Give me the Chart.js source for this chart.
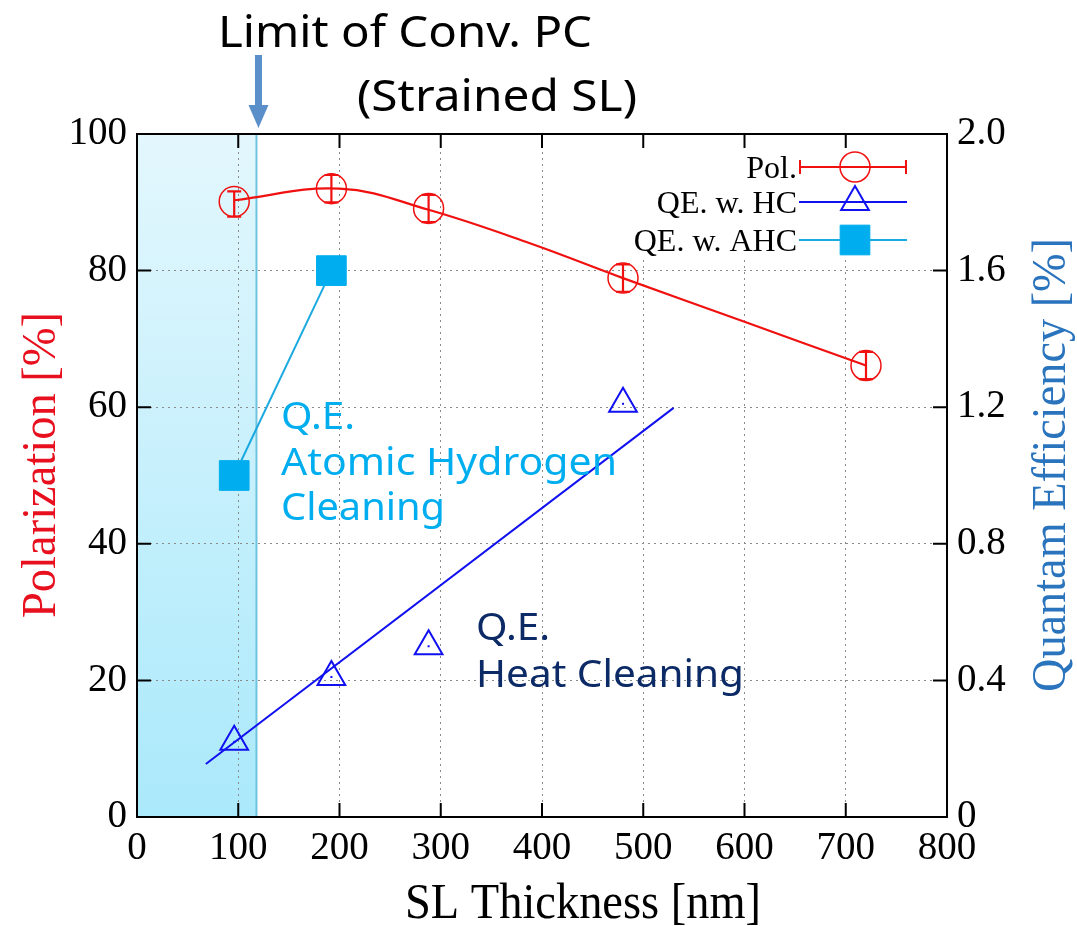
<!DOCTYPE html>
<html lang="en">
<head>
  <meta charset="UTF-8" />
  <title>Polarization and QE vs SL Thickness</title>
  <script src="https://cdn.jsdelivr.net/npm/chart.js"></script>
  <style>
    body { margin: 0; background: #fff; }
    #wrap { position: relative; width: 1077px; height: 926px; }
  </style>
</head>
<body>
  <div id="wrap"><canvas id="chart"></canvas></div>

  <script>
    // values
    const polThickness = [96, 192, 288, 480, 720];
    const polValues = [90.1, 92.0, 89.1, 78.9, 66.1];
    const polErrLow = [2.2, 2, 2, 2, 2];
    const polErrHigh = [1.5, 2, 2, 2, 2];

    // smooth fit curve through the polarization data
    const fitThickness = [96, 200, 288, 388, 480, 600, 720];
    const fitValues = [90.3, 92.0, 88.9, 84.0, 78.9, 72.5, 66.1];

    // QE with heat cleaning (right axis)
    const hcThickness = [96, 192, 288, 480];
    const hcQE = [0.22, 0.41, 0.50, 1.21];
    const hcFitThickness = [68, 530];
    const hcFitQE = [0.155, 1.198];

    // QE with atomic hydrogen cleaning (right axis)
    const ahcThickness = [96, 192];
    const ahcQE = [1.0, 1.6];

    const limitThickness = 118; // limit of conventional PC
    const serif = "'Liberation Serif', 'Times New Roman', serif";
    const sans = "'Noto Sans', 'Open Sans', sans-serif";

    const zip = (xs, ys) => xs.map((x, i) => ({ x: x, y: ys[i] }));

    const RED = '#f01010';
    const BLUE = '#1010f0';
    const CYAN = '#00aeef';

    // draw text stretched horizontally to a given width
    function fitText(ctx, text, x, y, width) {
      const w = ctx.measureText(text).width;
      ctx.save();
      ctx.translate(x, y);
      ctx.scale(width / w, 1);
      ctx.fillText(text, 0, 0);
      ctx.restore();
    }

    const shadePlugin = {
      id: 'shade',
      beforeDraw(chart) {
        const { ctx, chartArea: a, scales: { x } } = chart;
        const x0 = x.getPixelForValue(0), x1 = x.getPixelForValue(limitThickness);
        const g = ctx.createLinearGradient(0, a.top, 0, a.bottom);
        g.addColorStop(0, '#e3f7fd');
        g.addColorStop(1, '#aae9fb');
        ctx.save();
        ctx.fillStyle = g;
        ctx.fillRect(x0, a.top, x1 - x0, a.bottom - a.top);
        ctx.strokeStyle = '#6ec3de';
        ctx.lineWidth = 2;
        ctx.beginPath();
        ctx.moveTo(x1, a.top);
        ctx.lineTo(x1, a.bottom);
        ctx.stroke();
        ctx.restore();
      },
      beforeDatasetsDraw(chart) {
        // white box behind the legend
        const { ctx, chartArea: a } = chart;
        ctx.save();
        ctx.fillStyle = '#fff';
        ctx.fillRect(620, a.top + 2, a.right - 622, 120);
        ctx.restore();
      }
    };

    const errorBarPlugin = {
      id: 'errorBars',
      afterDatasetsDraw(chart) {
        const { ctx, scales: { y } } = chart;
        const meta = chart.getDatasetMeta(1);
        ctx.save();
        ctx.strokeStyle = RED;
        ctx.lineWidth = 2.2;
        meta.data.forEach((pt, i) => {
          const top = y.getPixelForValue(polValues[i] + polErrHigh[i]);
          const bot = y.getPixelForValue(polValues[i] - polErrLow[i]);
          ctx.beginPath();
          ctx.moveTo(pt.x, top); ctx.lineTo(pt.x, bot);
          ctx.moveTo(pt.x - 7, top); ctx.lineTo(pt.x + 7, top);
          ctx.moveTo(pt.x - 7, bot); ctx.lineTo(pt.x + 7, bot);
          ctx.stroke();
        });
        // small dot in the middle of each triangle
        ctx.fillStyle = BLUE;
        chart.getDatasetMeta(3).data.forEach(pt => {
          ctx.fillRect(pt.x - 1, pt.y - 1, 2, 2);
        });
        ctx.restore();
      }
    };

    const framePlugin = {
      id: 'frame',
      afterDraw(chart) {
        const { ctx, chartArea: a, scales: { x, y } } = chart;
        ctx.save();
        ctx.strokeStyle = '#000';
        ctx.lineWidth = 2;
        ctx.strokeRect(a.left, a.top, a.right - a.left, a.bottom - a.top);
        ctx.beginPath();
        x.ticks.forEach(t => {
          const px = x.getPixelForValue(t.value);
          ctx.moveTo(px, a.bottom); ctx.lineTo(px, a.bottom - 14);
          ctx.moveTo(px, a.top); ctx.lineTo(px, a.top + 14);
        });
        y.ticks.forEach(t => {
          const py = y.getPixelForValue(t.value);
          ctx.moveTo(a.left, py); ctx.lineTo(a.left + 14, py);
          ctx.moveTo(a.right, py); ctx.lineTo(a.right - 14, py);
        });
        ctx.stroke();
        ctx.restore();
      }
    };

    const textPlugin = {
      id: 'texts',
      afterDraw(chart) {
        const { ctx, scales: { x }, chartArea: a } = chart;
        const ds = chart.data.datasets;
        ctx.save();

        // axis titles
        ctx.textBaseline = 'alphabetic';
        ctx.textAlign = 'center';
        ctx.fillStyle = '#000';
        ctx.font = '50px ' + serif;
        ctx.fillText('SL Thickness [nm]', 583, 918, 356);

        ctx.save();
        ctx.translate(55, 465);
        ctx.rotate(-Math.PI / 2);
        ctx.fillStyle = '#e8101e';
        ctx.font = '48px ' + serif;
        ctx.fillText('Polarization [%]', 0, 0, 306);
        ctx.restore();

        ctx.save();
        ctx.translate(1065, 465);
        ctx.rotate(-Math.PI / 2);
        ctx.fillStyle = '#2a73bd';
        ctx.font = '48px ' + serif;
        ctx.fillText('Quantam Efficiency [%]', 0, 0, 454);
        ctx.restore();

        // legend
        const rows = [
          { label: 'Pol.', y: 167, line: RED, ds: ds[1], bar: true },
          { label: 'QE. w. HC', y: 202, line: BLUE, ds: ds[3] },
          { label: 'QE. w. AHC', y: 240, line: '#1ba9e1', ds: ds[4] }
        ];
        ctx.font = '32px ' + serif;
        ctx.textAlign = 'right';
        rows.forEach(r => {
          ctx.fillStyle = '#000';
          ctx.fillText(r.label, 797, r.y + 11);
          ctx.strokeStyle = r.line;
          ctx.lineWidth = 2;
          ctx.beginPath();
          ctx.moveTo(799, r.y); ctx.lineTo(907, r.y);
          if (r.bar) {
            ctx.moveTo(800, r.y - 7); ctx.lineTo(800, r.y + 7);
            ctx.moveTo(906, r.y - 7); ctx.lineTo(906, r.y + 7);
          }
          ctx.stroke();
          ctx.fillStyle = r.ds.pointBackgroundColor;
          ctx.strokeStyle = r.ds.pointBorderColor;
          ctx.lineWidth = r.ds.pointBorderWidth;
          Chart.helpers.drawPoint(ctx, {
            pointStyle: r.ds.pointStyle, radius: r.ds.pointRadius,
            rotation: 0, borderWidth: r.ds.pointBorderWidth
          }, 855, r.y);
        });

        // annotations
        ctx.textAlign = 'left';
        ctx.fillStyle = '#000';
        ctx.font = '44px ' + sans;
        fitText(ctx, 'Limit of Conv. PC', 218, 47, 374);
        fitText(ctx, '(Strained SL)', 357, 111, 280);

        ctx.fillStyle = CYAN;
        ctx.font = '38px ' + sans;
        fitText(ctx, 'Q.E.', 281, 429, 74);
        fitText(ctx, 'Atomic Hydrogen', 281, 475, 336);
        fitText(ctx, 'Cleaning', 281, 520, 164);

        ctx.fillStyle = '#0b2a66';
        fitText(ctx, 'Q.E.', 476, 640, 74);
        fitText(ctx, 'Heat Cleaning', 476, 687, 268);

        // arrow
        const ax = x.getPixelForValue(limitThickness) + 2;
        ctx.fillStyle = '#5b8fca';
        ctx.fillRect(ax - 3.5, 55, 7, 52);
        ctx.beginPath();
        ctx.moveTo(ax - 10, 105);
        ctx.lineTo(ax + 10, 105);
        ctx.lineTo(ax, a.top - 6);
        ctx.closePath();
        ctx.fill();

        ctx.restore();
      }
    };

    const tickFont = { family: serif, size: 39 };

    new Chart(document.getElementById('chart'), {
      type: 'line',
      data: {
        datasets: [
          {
            label: 'Pol. fit',
            data: zip(fitThickness, fitValues),
            borderColor: RED,
            borderWidth: 2.2,
            pointRadius: 0,
            tension: 0.4,
            yAxisID: 'y'
          },
          {
            label: 'Pol.',
            data: zip(polThickness, polValues),
            showLine: false,
            pointStyle: 'circle',
            pointRadius: 15,
            pointBorderWidth: 1.5,
            pointBorderColor: RED,
            pointBackgroundColor: 'rgba(255,255,255,0)',
            yAxisID: 'y'
          },
          {
            label: 'QE. w. HC fit',
            data: zip(hcFitThickness, hcFitQE),
            borderColor: BLUE,
            borderWidth: 2,
            pointRadius: 0,
            yAxisID: 'y1'
          },
          {
            label: 'QE. w. HC',
            data: zip(hcThickness, hcQE),
            showLine: false,
            pointStyle: 'triangle',
            pointRadius: 16,
            pointBorderWidth: 2,
            pointBorderColor: BLUE,
            pointBackgroundColor: 'rgba(255,255,255,0)',
            yAxisID: 'y1'
          },
          {
            label: 'QE. w. AHC',
            data: zip(ahcThickness, ahcQE),
            borderColor: '#1ba9e1',
            borderWidth: 2,
            pointStyle: 'rect',
            pointRadius: 21,
            pointBorderWidth: 1,
            pointBorderColor: CYAN,
            pointBackgroundColor: CYAN,
            yAxisID: 'y1'
          }
        ]
      },
      options: {
        responsive: true,
        maintainAspectRatio: false,
        animation: false,
        layout: { padding: { top: 134, left: 0, right: 0, bottom: 0 } },
        plugins: {
          legend: { display: false },
          tooltip: { enabled: false }
        },
        scales: {
          x: {
            type: 'linear',
            min: 0,
            max: 800,
            ticks: { stepSize: 100, font: tickFont, color: '#000', padding: 8, maxRotation: 0 },
            grid: { color: '#8a8a8a', lineWidth: 1, drawTicks: false },
            border: { color: '#000', width: 2, dash: [2, 4] },
            afterFit(s) { s.height = 109; }
          },
          y: {
            position: 'left',
            min: 0,
            max: 100,
            ticks: { stepSize: 20, font: tickFont, color: '#000', padding: 10 },
            grid: { color: '#8a8a8a', lineWidth: 1, drawTicks: false },
            border: { color: '#000', width: 2, dash: [2, 4] },
            afterFit(s) { s.width = 137; }
          },
          y1: {
            position: 'right',
            min: 0,
            max: 2,
            ticks: {
              stepSize: 0.4,
              font: tickFont,
              color: '#000',
              padding: 10,
              callback: v => (v === 0 ? '0' : v.toFixed(1))
            },
            grid: { display: false, drawTicks: false },
            border: { color: '#000', width: 2 },
            afterFit(s) { s.width = 130; }
          }
        }
      },
      plugins: [shadePlugin, errorBarPlugin, framePlugin, textPlugin]
    });
  </script>
</body>
</html>
